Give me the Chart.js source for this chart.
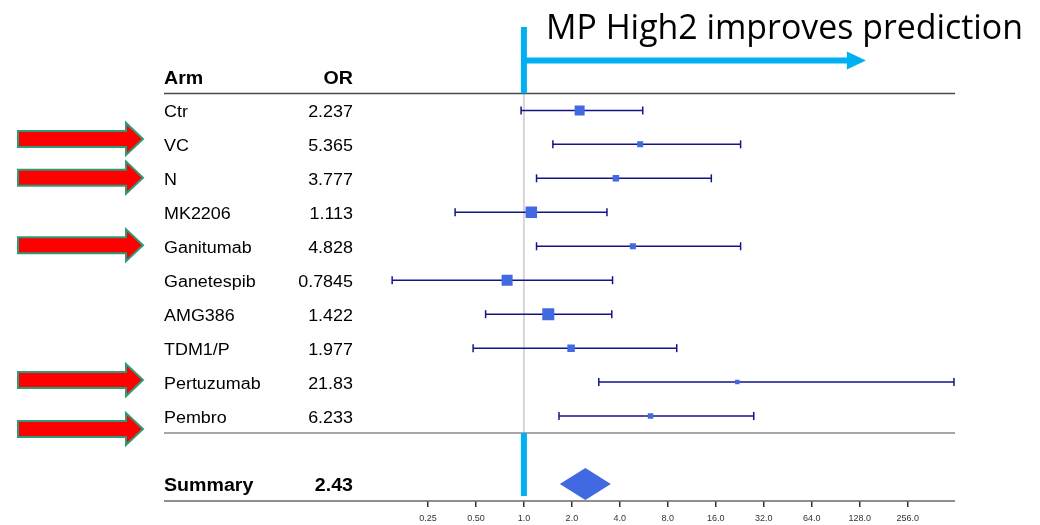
<!DOCTYPE html>
<html>
<head>
<meta charset="utf-8">
<script src="https://cdn.jsdelivr.net/npm/chart.js@4.4.1/dist/chart.umd.min.js"></script>
<style>
  body { margin: 0; background: #fff; }
  canvas { display: block; }
</style>
</head>
<body>
<canvas id="forestChart" width="1040" height="525"></canvas>
<script>
// Forest plot: odds ratio per arm, log2 x axis

const arms = ['Ctr', 'VC', 'N', 'MK2206', 'Ganitumab', 'Ganetespib', 'AMG386', 'TDM1/P', 'Pertuzumab', 'Pembro'];
const oddsRatios = [2.237, 5.365, 3.777, 1.113, 4.828, 0.7845, 1.422, 1.977, 21.83, 6.233];
const lowerCI = [0.96, 1.52, 1.2, 0.37, 1.2, 0.149, 0.575, 0.48, 2.95, 1.66];
const upperCI = [5.57, 22.9, 15.0, 3.32, 22.9, 3.6, 3.56, 9.1, 500, 27.7];
const weights = [10, 6, 6.5, 11.5, 6, 11, 12, 7.5, 4.5, 5.5];

const summaryLabel = 'Summary';
const summaryOR = 2.43;
const summaryCI = [1.68, 3.51];

const xTicks = [0.25, 0.5, 1, 2, 4, 8, 16, 32, 64, 128, 256];
const xRange = [0.125, 500];

// rows marked with red arrows (VC, N, Ganitumab, Pertuzumab, Pembro)
const arrowRows = [0.84, 1.98, 3.97, 7.94, 9.38];

const titleText = 'MP High2 improves prediction';
const improveArrowTo = 140;

const SUMMARY_ROW = 11;
const TEXT_LEFT = 164;
const OR_RIGHT = 353;
const LINE_RIGHT = 955;
const TEXT_STRETCH = 1.12; // table text in the slide is a bit wide
const CYAN = '#00B0F0';

function drawArrow(ctx, y) {
    ctx.beginPath();
    ctx.moveTo(18, y - 8);
    ctx.lineTo(126, y - 8);
    ctx.lineTo(126, y - 16);
    ctx.lineTo(143, y);
    ctx.lineTo(126, y + 16);
    ctx.lineTo(126, y + 8);
    ctx.lineTo(18, y + 8);
    ctx.closePath();
    ctx.fillStyle = '#FF0000';
    ctx.fill();
    ctx.lineWidth = 2;
    ctx.strokeStyle = '#2E9B78';
    ctx.stroke();
}

function hline(ctx, y, x0, x1, color, width) {
    ctx.beginPath();
    ctx.moveTo(x0, y);
    ctx.lineTo(x1, y);
    ctx.strokeStyle = color;
    ctx.lineWidth = width;
    ctx.stroke();
}

function wideText(ctx, text, x, y, align) {
    ctx.save();
    ctx.translate(x, y);
    ctx.scale(TEXT_STRETCH, 1);
    ctx.textAlign = align;
    ctx.fillText(text, 0, 0);
    ctx.restore();
}

const forestDecor = {
    id: 'forestDecor',
    beforeDatasetsDraw(chart) {
        const ctx = chart.ctx;
        const x = chart.scales.x;
        const y = chart.scales.y;
        // reference line at OR = 1
        ctx.save();
        ctx.beginPath();
        ctx.moveTo(x.getPixelForValue(1), y.getPixelForValue(-0.5));
        ctx.lineTo(x.getPixelForValue(1), y.getPixelForValue(9.5));
        ctx.strokeStyle = '#d6d6d6';
        ctx.lineWidth = 2;
        ctx.stroke();
        ctx.restore();
    },
    afterDatasetsDraw(chart) {
        const ctx = chart.ctx;
        const x = chart.scales.x;
        const y = chart.scales.y;
        ctx.save();

        // table lines
        hline(ctx, y.getPixelForValue(-0.5), TEXT_LEFT, LINE_RIGHT, '#4a4a4a', 1.5);
        hline(ctx, y.getPixelForValue(9.5), TEXT_LEFT, LINE_RIGHT, '#8a8a8a', 1.5);
        hline(ctx, y.getPixelForValue(11.5), TEXT_LEFT, LINE_RIGHT, '#6a6a6a', 1.5);

        // header
        ctx.fillStyle = '#000';
        ctx.font = 'bold 17.5px "Liberation Sans", Arial, sans-serif';
        wideText(ctx, 'Arm', TEXT_LEFT, y.getPixelForValue(-1) + 8, 'left');
        wideText(ctx, 'OR', OR_RIGHT, y.getPixelForValue(-1) + 8, 'right');

        // rows
        ctx.font = '16px "Liberation Sans", Arial, sans-serif';
        arms.forEach((arm, i) => {
            const py = y.getPixelForValue(i) + 7;
            wideText(ctx, arm, TEXT_LEFT, py, 'left');
            wideText(ctx, String(oddsRatios[i]), OR_RIGHT, py, 'right');
        });

        // summary
        ctx.font = 'bold 17.5px "Liberation Sans", Arial, sans-serif';
        const sy = y.getPixelForValue(SUMMARY_ROW);
        wideText(ctx, summaryLabel, TEXT_LEFT, sy + 6.5, 'left');
        wideText(ctx, String(summaryOR), OR_RIGHT, sy + 6.5, 'right');

        // summary diamond
        ctx.beginPath();
        ctx.moveTo(x.getPixelForValue(summaryCI[0]), sy);
        ctx.lineTo(x.getPixelForValue(summaryOR), sy - 16);
        ctx.lineTo(x.getPixelForValue(summaryCI[1]), sy);
        ctx.lineTo(x.getPixelForValue(summaryOR), sy + 16);
        ctx.closePath();
        ctx.fillStyle = '#4169E1';
        ctx.fill();

        // cyan annotation
        const x1 = x.getPixelForValue(1);
        ctx.fillStyle = CYAN;
        ctx.fillRect(x1 - 3, 27, 6, y.getPixelForValue(-0.5) - 27);
        ctx.fillRect(x1 - 3, y.getPixelForValue(9.5), 6, 63);
        const ay = 60.5;
        const tip = x.getPixelForValue(improveArrowTo);
        ctx.fillRect(x1, ay - 3, tip - 18 - x1, 6);
        ctx.beginPath();
        ctx.moveTo(tip - 19, ay - 9);
        ctx.lineTo(tip, ay);
        ctx.lineTo(tip - 19, ay + 9);
        ctx.closePath();
        ctx.fill();

        ctx.fillStyle = '#000';
        ctx.font = '34px "Open Sans", sans-serif';
        ctx.textAlign = 'left';
        ctx.fillText(titleText, 546, 39, 477);

        // red arrows
        arrowRows.forEach(r => drawArrow(ctx, y.getPixelForValue(r)));

        ctx.restore();
    }
};

const ciDatasets = arms.map((arm, i) => ({
    type: 'line',
    label: arm + ' CI',
    data: [{ x: lowerCI[i], y: i }, { x: upperCI[i], y: i }],
    borderColor: '#14148a',
    borderWidth: 1.5,
    pointStyle: 'line',
    pointRotation: 90,
    pointRadius: 4,
    pointBorderColor: '#14148a',
    pointBorderWidth: 1.5,
    clip: false
}));

const boxDataset = {
    type: 'scatter',
    label: 'OR',
    data: oddsRatios.map((v, i) => ({ x: v, y: i })),
    pointStyle: 'rect',
    pointRadius: weights.map(w => w / Math.SQRT2),
    backgroundColor: '#4169E1',
    borderColor: '#4169E1',
    borderWidth: 0
};

new Chart(document.getElementById('forestChart').getContext('2d'), {
    type: 'scatter',
    data: { datasets: [boxDataset, ...ciDatasets] },
    options: {
        responsive: false,
        animation: false,
        layout: { padding: { left: 380, right: 86, top: 6, bottom: 4 } },
        plugins: {
            legend: { display: false },
            tooltip: { enabled: false }
        },
        scales: {
            x: {
                type: 'logarithmic',
                min: xRange[0],
                max: xRange[1],
                afterBuildTicks: axis => {
                    axis.ticks = xTicks.map(v => ({ value: v }));
                },
                afterFit: axis => {
                    axis.height = 20;
                },
                ticks: {
                    autoSkip: false,
                    maxRotation: 0,
                    padding: 6,
                    color: '#333',
                    font: { family: '"Liberation Sans", Arial, sans-serif', size: 9 },
                    callback: v => (v < 1 ? v.toFixed(2) : v.toFixed(1))
                },
                grid: {
                    drawOnChartArea: false,
                    drawTicks: true,
                    tickLength: 6,
                    color: '#333',
                    lineWidth: 1.5
                },
                border: { display: false }
            },
            y: {
                type: 'linear',
                display: false,
                reverse: true,
                min: -3,
                max: 11.5
            }
        }
    },
    plugins: [forestDecor]
});
</script>
</body>
</html>
